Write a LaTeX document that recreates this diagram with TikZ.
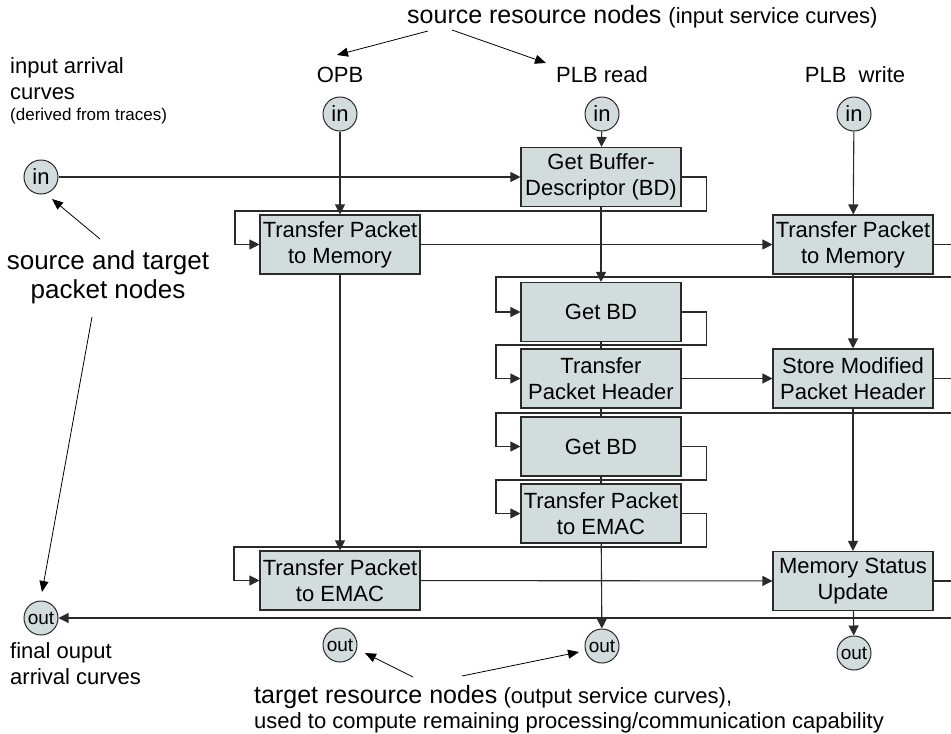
\documentclass[tikz,border=0pt]{standalone}
\usepackage{fontspec}
\setmainfont{Liberation Sans}
\usetikzlibrary{arrows.meta}
\definecolor{taskfill}{HTML}{D2DCDC}
\definecolor{wirecol}{HTML}{2A2A2A}
\tikzset{
  task/.style={draw=wirecol, fill=taskfill, line width=1.1pt, minimum width=160pt, minimum height=59pt, inner sep=0pt, align=center, font=\fontsize{22}{26}\selectfont},
  inport/.style={circle, draw=wirecol, fill=taskfill, line width=1pt, minimum size=34pt, inner sep=0pt, font=\fontsize{22}{26}\selectfont},
  outport/.style={inport, font=\fontsize{19}{22}\selectfont},
  flow/.style={draw=wirecol, line width=1.1pt, -{Triangle[length=10pt,width=10pt]}},
  link/.style={draw=wirecol, line width=1.1pt},
  note/.style={line width=0.8pt, -{Triangle[length=11pt,width=9pt]}},
  lab/.style={inner sep=0pt, font=\fontsize{22}{26}\selectfont}
}
\begin{document}
\begin{tikzpicture}[x=1pt, y=-1pt]
    \useasboundingbox (0,0) rectangle (951,734);
    \clip (0,0) rectangle (951,734);

    \node[lab, anchor=base west, font=\fontsize{25}{30}\selectfont] (srcLabel) at (407,23) {source resource nodes {\fontsize{22}{26}\selectfont (input service curves)}};
    \node[lab, anchor=base] (labOPB) at (340,82) {OPB};
    \node[lab, anchor=base] (labRead) at (602,82) {PLB read};
    \node[lab, anchor=base] (labWrite) at (855,82) {PLB\ \ write};
    \node[lab, anchor=north west, align=left] (arrIn) at (10,57) {input arrival\\curves\\[-5pt]{\fontsize{17}{20}\selectfont (derived from traces)}};
    \node[lab, align=center, font=\fontsize{26}{29}\selectfont] (pktLabel) at (108,277) {source and target\\packet nodes};
    \node[lab, anchor=north west, align=left] (arrOut) at (10,642) {final ouput\\arrival curves};
    \node[lab, anchor=north west, align=left, font=\fontsize{22}{25}\selectfont] (tgtLabel) at (254,685) {{\fontsize{25}{25}\selectfont target resource nodes} (output service curves),\\used to compute remaining processing/communication capability};

    \node[inport] (inL) at (41,177) {in};
    \node[inport] (inOPB) at (340,114) {in};
    \node[inport] (inRead) at (602,114) {in};
    \node[inport] (inWrite) at (854,114) {in};

    \node[task] (gbd) at (601,177) {Get Buffer-\\Descriptor (BD)};
    \node[task] (tpmOPB) at (340,244.5) {Transfer Packet\\to Memory};
    \node[task] (tpmWrite) at (853,244.5) {Transfer Packet\\to Memory};
    \node[task] (gbdA) at (601,312) {Get BD};
    \node[task] (tph) at (601,378.5) {Transfer\\Packet Header};
    \node[task] (smph) at (853,378.5) {Store Modified\\Packet Header};
    \node[task] (gbdB) at (601,446.5) {Get BD};
    \node[task] (tpeRead) at (601,513.5) {Transfer Packet\\to EMAC};
    \node[task] (tpeOPB) at (340,580.5) {Transfer Packet\\to EMAC};
    \node[task] (msu) at (853,581) {Memory Status\\Update};

    \node[outport] (outL) at (41,618) {out};
    \node[outport] (outOPB) at (340,645) {out};
    \node[outport] (outRead) at (602,646) {out};
    \node[outport] (outWrite) at (854,653) {out};

    \draw[flow] (inL) -- (gbd);
    \draw[flow] (inOPB) -- (tpmOPB);
    \draw[flow] (inRead) -- (gbd);
    \draw[flow] (inWrite) -- (tpmWrite);
    \draw[flow] (gbd.east) -- ++(25,0) |- (235,211) |- (tpmOPB.west);
    \draw[flow] (tpmOPB) -- (tpmWrite);
    \draw[flow] (tpmWrite.east) -- ++(25,0) |- (496,277) |- (gbdA.west);
    \draw[flow] (gbd) -- (gbdA);
    \draw[flow] (tpmOPB) -- (tpeOPB);
    \draw[flow] (gbdA.east) -- ++(25,0) |- (496,345) |- (tph.west);
    \draw[link] (gbdA) -- (tph);
    \draw[flow] (tph) -- (smph);
    \draw[flow] (tpmWrite) -- (smph);
    \draw[flow] (smph.east) -- ++(25,0) |- (496,413) |- (gbdB.west);
    \draw[link] (tph) -- (gbdB);
    \draw[flow] (gbdB.east) -- ++(25,0) |- (496,480) |- (tpeRead.west);
    \draw[link] (gbdB) -- (tpeRead);
    \draw[flow] (tpeRead.east) -- ++(25,0) |- (234,547) |- (tpeOPB.west);
    \draw[flow] (tpeRead) -- (outRead);
    \draw[flow] (tpeOPB) -- (msu);
    \draw[flow] (smph) -- (msu);
    \draw[flow] (msu.east) -- ++(25,0) |- (outL.east);
    \draw[flow] (msu) -- (outWrite);

    \coordinate (srcA) at (428,31);
    \coordinate (srcB) at (452,30);
    \coordinate (tipOPB) at (337,55);
    \coordinate (tipRead) at (546,63);
    \coordinate (pktA) at (100,239);
    \coordinate (pktB) at (92,317);
    \coordinate (tipInL) at (52,199);
    \coordinate (tipOutL) at (42,592);
    \coordinate (tgtA) at (413,677);
    \coordinate (tgtB) at (462,676);
    \coordinate (tipOutOPB) at (365,653);
    \coordinate (tipOutRead) at (579,652);
    \draw[note] (srcA) -- (tipOPB);
    \draw[note] (srcB) -- (tipRead);
    \draw[note] (pktA) -- (tipInL);
    \draw[note] (pktB) -- (tipOutL);
    \draw[note] (tgtA) -- (tipOutOPB);
    \draw[note] (tgtB) -- (tipOutRead);
\end{tikzpicture}
\end{document}
